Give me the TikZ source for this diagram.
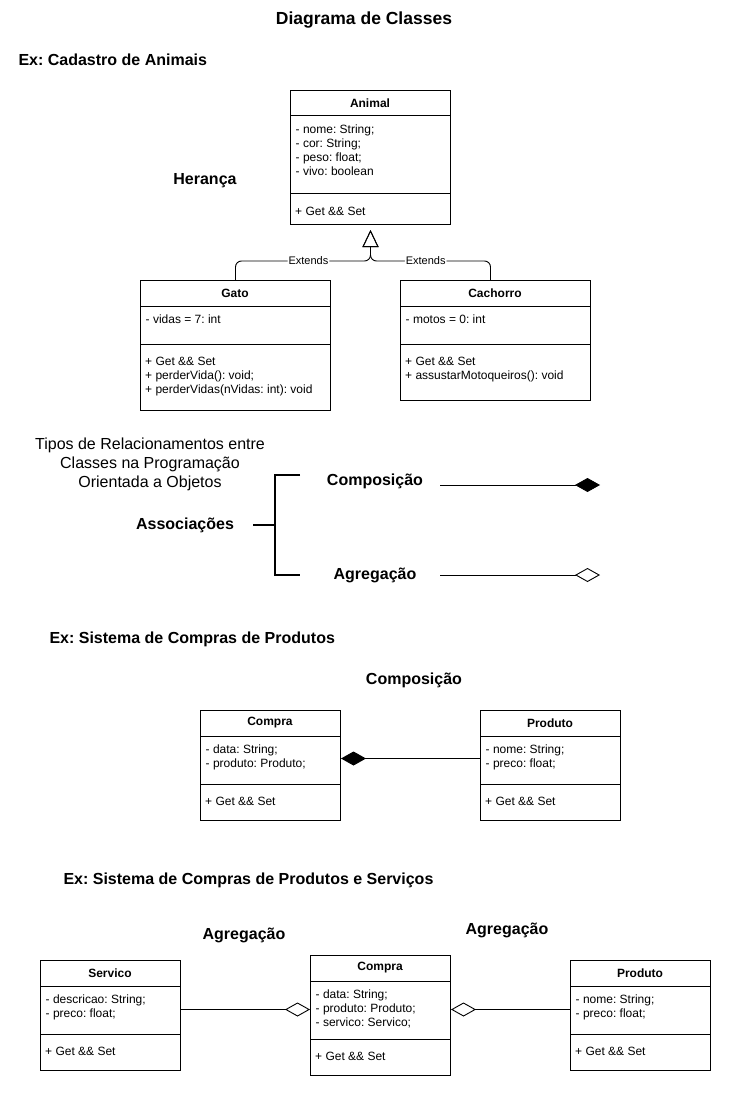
\documentclass[tikz,border=0pt]{standalone}
\usepackage{fontspec}
\setmainfont{Liberation Sans}
\usetikzlibrary{arrows.meta,calc}
\frenchspacing

\begin{document}
\begin{tikzpicture}[x=1pt,y=-1pt,
  classbox/.style={draw, line width=1pt, inner sep=0pt, anchor=north west},
  classname/.style={font=\bfseries\fontsize{12}{14}\selectfont},
  members/.style={anchor=north west, inner sep=0pt, align=left, font=\fontsize{12}{13.8}\selectfont},
  heading/.style={font=\bfseries\fontsize{16}{19}\selectfont},
  extlabel/.style={fill=white, inner sep=1pt, font=\fontsize{11}{13}\selectfont},
  inherit/.style={line width=0.9pt, rounded corners=6pt, -{Triangle[open,length=17pt,width=16pt]}, shorten >=5pt},
  compose/.style={line width=0.9pt, -{Diamond[length=25pt,width=14pt]}},
  aggregate/.style={line width=0.9pt, -{Diamond[open,length=25pt,width=14pt]}},
  bracket/.style={line width=1.8pt}]
\useasboundingbox (0,0) rectangle (745,1115);

\node[font=\bfseries\fontsize{17.5}{20}\selectfont] (title) at (364,20) {Diagrama de Classes};

% heranca
\node[heading, anchor=west] (ex1) at (15,60) {Ex: Cadastro de Animais};
\node[heading] (heranca) at (205,181) {Herança};

\node[classbox, minimum width=160, minimum height=134] (animal) at (290,90) {};
\draw[line width=1pt] (animal.north west) ++(0,26) -- ++(160,0);
\draw[line width=1pt] (animal.north west) ++(0,104) -- ++(160,0);
\node[classname] (animalName) at (370,103) {Animal};
\node[members] (animalAttr) at (295.5,124) {\strut - nome: String;\\- cor: String;\\- peso: float;\\- vivo: boolean};
\node[members] (animalOps) at (295,206) {\strut + Get \&\& Set};

\node[classbox, minimum width=190, minimum height=130] (gato) at (140,280) {};
\draw[line width=1pt] (gato.north west) ++(0,26) -- ++(190,0);
\draw[line width=1pt] (gato.north west) ++(0,64) -- ++(190,0);
\node[classname] (gatoName) at (235,293) {Gato};
\node[members] (gatoAttr) at (145.5,314) {\strut - vidas = 7: int};
\node[members] (gatoOps) at (145,356) {\strut + Get \&\& Set\\+ perderVida(): void;\\+ perderVidas(nVidas: int): void};

\node[classbox, minimum width=190, minimum height=120] (cachorro) at (400,280) {};
\draw[line width=1pt] (cachorro.north west) ++(0,26) -- ++(190,0);
\draw[line width=1pt] (cachorro.north west) ++(0,64) -- ++(190,0);
\node[classname] (cachorroName) at (495,293) {Cachorro};
\node[members] (cachorroAttr) at (405.5,314) {\strut - motos = 0: int};
\node[members] (cachorroOps) at (405,356) {\strut + Get \&\& Set\\+ assustarMotoqueiros(): void};

\coordinate (fork) at ($(animal.south)+(0,36)$);
\draw[inherit] (gato.north) |- node[extlabel, pos=0.77] {Extends} (fork) -- (animal.south);
\draw[inherit] ([xshift=-5pt]cachorro.north) |- node[extlabel, pos=0.77] {Extends} (fork) -- (animal.south);

% tipos de associacao
\node[align=center, font=\fontsize{16}{19}\selectfont] (tipos) at (150,464) {Tipos de Relacionamentos entre\\Classes na Programação\\Orientada a Objetos};
\node[heading] (assoc) at (185,525) {Associações};
\node[heading] (compoLeg) at (375,481) {Composição};
\node[heading] (agregLeg) at (375,575) {Agregação};

\coordinate (brTop) at (300,475);
\coordinate (brBot) at (300,575);
\coordinate (brMid) at (275,525);
\draw[bracket] (brTop) -- (275,475) -- (275,575) -- (brBot);
\draw[bracket] ([xshift=16pt]assoc.east) -- (brMid);

\coordinate (compoL) at (440,485);
\coordinate (compoR) at (600,485);
\coordinate (agregL) at (440,575);
\coordinate (agregR) at (600,575);
\draw[compose] (compoL) -- (compoR);
\draw[aggregate] (agregL) -- (agregR);

% composicao
\node[heading, anchor=west] (ex2) at (46,639) {Ex: Sistema de Compras de Produtos};
\node[heading] (compoTit) at (414,680) {Composição};

\node[classbox, minimum width=140, minimum height=110] (compraA) at (200,710) {};
\draw[line width=1pt] (compraA.north west) ++(0,26) -- ++(140,0);
\draw[line width=1pt] (compraA.north west) ++(0,74) -- ++(140,0);
\node[classname] (compraAName) at (270,723) {Compra};
\node[members] (compraAAttr) at (205.5,744) {\strut - data: String;\\- produto: Produto;};
\node[members] (compraAOps) at (205,796) {\strut + Get \&\& Set};

\node[classbox, minimum width=140, minimum height=110] (produtoA) at (480,710) {};
\draw[line width=1pt] (produtoA.north west) ++(0,26) -- ++(140,0);
\draw[line width=1pt] (produtoA.north west) ++(0,74) -- ++(140,0);
\node[classname] (produtoAName) at (550,723) {Produto};
\node[members] (produtoAAttr) at (485.5,744) {\strut - nome: String;\\- preco: float;};
\node[members] (produtoAOps) at (485,796) {\strut + Get \&\& Set};

\draw[compose] ([yshift=7pt]produtoA.west) -- ([yshift=7pt]compraA.east);

% agregacao
\node[heading, anchor=west] (ex3) at (60,880) {Ex: Sistema de Compras de Produtos e Serviços};
\node[heading] (agregTitA) at (244,935) {Agregação};
\node[heading] (agregTitB) at (507,930) {Agregação};

\node[classbox, minimum width=140, minimum height=110] (servico) at (40,960) {};
\draw[line width=1pt] (servico.north west) ++(0,26) -- ++(140,0);
\draw[line width=1pt] (servico.north west) ++(0,74) -- ++(140,0);
\node[classname] (servicoName) at (110,973) {Servico};
\node[members] (servicoAttr) at (45.5,994) {\strut - descricao: String;\\- preco: float;};
\node[members] (servicoOps) at (45,1046) {\strut + Get \&\& Set};

\node[classbox, minimum width=140, minimum height=120] (compraB) at (310,955) {};
\draw[line width=1pt] (compraB.north west) ++(0,26) -- ++(140,0);
\draw[line width=1pt] (compraB.north west) ++(0,84) -- ++(140,0);
\node[classname] (compraBName) at (380,968) {Compra};
\node[members] (compraBAttr) at (315.5,989) {\strut - data: String;\\- produto: Produto;\\- servico: Servico;};
\node[members] (compraBOps) at (315,1051) {\strut + Get \&\& Set};

\node[classbox, minimum width=140, minimum height=110] (produtoB) at (570,960) {};
\draw[line width=1pt] (produtoB.north west) ++(0,26) -- ++(140,0);
\draw[line width=1pt] (produtoB.north west) ++(0,74) -- ++(140,0);
\node[classname] (produtoBName) at (640,973) {Produto};
\node[members] (produtoBAttr) at (575.5,994) {\strut - nome: String;\\- preco: float;};
\node[members] (produtoBOps) at (575,1046) {\strut + Get \&\& Set};

\draw[aggregate] ([yshift=6pt]servico.east) -- ([yshift=6pt]compraB.west);
\draw[aggregate] ([yshift=6pt]produtoB.west) -- ([yshift=6pt]compraB.east);

\end{tikzpicture}
\end{document}
